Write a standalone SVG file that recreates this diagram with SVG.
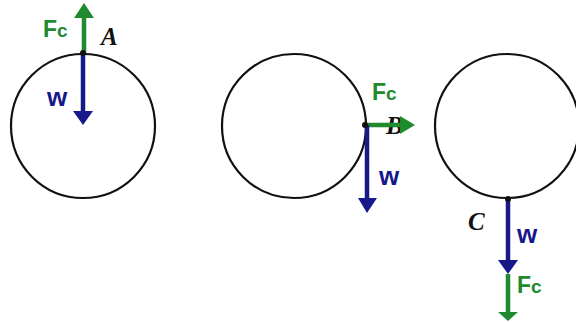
<svg xmlns="http://www.w3.org/2000/svg" width="576" height="322" viewBox="0 0 576 322">
<style>
.ring{fill:none;stroke:#111;stroke-width:2.2}
.dot{fill:#111}
.g{stroke:#1f8a2e;stroke-width:4.5;fill:none}
.gh{fill:#1f8a2e}
.b{stroke:#17188a;stroke-width:4.5;fill:none}
.bh{fill:#17188a}
.fc{font-family:"Liberation Sans",Arial,sans-serif;font-size:23px;font-weight:bold;fill:#1f8a2e}
.fc tspan{font-size:19px}
.w{font-family:"Liberation Sans",Arial,sans-serif;font-size:26px;font-weight:bold;fill:#17188a}
.pt{font-family:"Liberation Serif","Times New Roman",serif;font-size:25px;font-weight:bold;font-style:italic;fill:#111}
</style>
<rect width="576" height="322" fill="#fff"/>
<g id="circleA">
<circle class="ring" cx="83" cy="126" r="72"/>
<text class="pt" x="101" y="45">A</text>
</g>
<g id="circleB">
<circle class="ring" cx="294" cy="126" r="72"/>
<text class="pt" x="386" y="134">B</text>
</g>
<g id="circleC">
<circle class="ring" cx="507" cy="126" r="72"/>
<text class="pt" x="468" y="230">C</text>
</g>
<g id="connectors">
<line class="g" x1="84" y1="53" x2="84" y2="17"/>
<polygon class="gh" points="74,18 94,18 84,3"/>
<line class="b" x1="83" y1="53" x2="83" y2="113"/>
<polygon class="bh" points="73,111 93,111 83,125"/>
<line class="g" x1="365" y1="125" x2="401" y2="125"/>
<polygon class="gh" points="400,116 400,134 415,125"/>
<line class="b" x1="367" y1="125" x2="367" y2="199"/>
<polygon class="bh" points="358,198 377,198 367,213"/>
<line class="b" x1="508" y1="199" x2="508" y2="261"/>
<polygon class="bh" points="498,260 518,260 508,274"/>
<line class="g" x1="508" y1="274" x2="508" y2="314"/>
<polygon class="gh" points="498,312 518,312 508,321"/>
<circle class="dot" cx="83" cy="53" r="3"/>
<circle class="dot" cx="365" cy="125" r="3"/>
<circle class="dot" cx="508" cy="199" r="3"/>
</g>
<g id="labels">
<text class="fc" x="43" y="37">F<tspan>c</tspan></text>
<text class="w" x="47" y="106">w</text>
<text class="fc" x="372" y="100">F<tspan>c</tspan></text>
<text class="w" x="379" y="185">w</text>
<text class="w" x="517" y="243">w</text>
<text class="fc" x="517" y="293">F<tspan>c</tspan></text>
</g>
</svg>
